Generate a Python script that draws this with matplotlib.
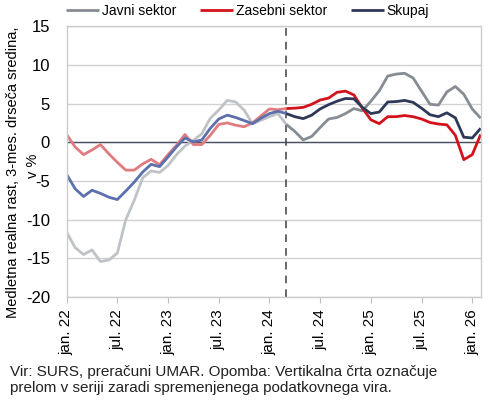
import numpy as np
import matplotlib
matplotlib.use('Agg')
import matplotlib.pyplot as plt

plt.rcParams['font.family'] = ['Liberation Sans', 'DejaVu Sans']
plt.rcParams['axes.unicode_minus'] = False

# mesečni podatki jan.22 - feb.26
meseci = np.arange(50)
javni = [-11.6, -13.6, -14.5, -13.9, -15.4, -15.2, -14.3, -10.0, -7.5, -4.6,
         -3.7, -3.9, -3.0, -1.6, -0.5, 0.25, 1.1, 3.1, 4.15, 5.4,
         5.2, 4.15, 2.4, 2.85, 3.3, 3.7, 2.3, 1.4, 0.3, 0.75,
         1.9, 3.0, 3.2, 3.7, 4.35, 4.05, 5.3, 6.65, 8.55, 8.8,
         8.9, 8.3, 6.6, 4.9, 4.8, 6.5, 7.2, 6.2, 4.3, 3.1]
zasebni = [1.0, -0.6, -1.6, -1.0, -0.3, -1.5, -2.6, -3.6, -3.6, -2.8,
           -2.2, -2.9, -1.6, -0.4, 1.0, -0.3, -0.3, 0.9, 2.3, 2.5,
           2.2, 2.0, 2.5, 3.4, 4.3, 4.2, 4.35, 4.4, 4.5, 4.9,
           5.45, 5.7, 6.45, 6.6, 6.1, 4.4, 2.9, 2.4, 3.3, 3.3,
           3.45, 3.3, 3.0, 2.55, 2.35, 2.25, 0.9, -2.25, -1.6, 1.0]
skupaj = [-4.15, -6.0, -7.0, -6.2, -6.6, -7.1, -7.4, -6.3, -5.15, -3.85,
          -2.85, -3.15, -1.9, -0.6, 0.55, 0.05, 0.3, 1.8, 3.0, 3.5,
          3.2, 2.8, 2.4, 3.1, 3.7, 4.0, 3.7, 3.3, 3.05, 3.5,
          4.3, 4.85, 5.3, 5.65, 5.6, 4.5, 3.7, 3.9, 5.2, 5.25,
          5.4, 5.15, 4.4, 3.55, 3.3, 3.8, 3.15, 0.65, 0.55, 1.8]
prelom = 26  # mar.24
tick_pos = [0, 6, 12, 18, 24, 30, 36, 42, 48]
tick_lab = ['jan. 22', 'jul. 22', 'jan. 23', 'jul. 23', 'jan. 24',
            'jul. 24', 'jan. 25', 'jul. 25', 'jan. 26']

fig = plt.figure(figsize=(4.9, 4.01), dpi=100)
ax = fig.add_axes([0.136, 0.259, 0.845, 0.676])

serije = [
    ('Javni sektor', javni, '#bfc3c7', '#858c94'),
    ('Zasebni sektor', zasebni, '#e07b7f', '#d3121c'),
    ('Skupaj', skupaj, '#5b70ad', '#2e3857'),
]
x = np.array(meseci)
for ime, vals, svetla, temna in serije:
    v = np.array(vals)
    ax.plot(x[:prelom + 1], v[:prelom + 1], color=svetla, lw=2, solid_capstyle='butt')
    ax.plot(x[prelom:], v[prelom:], color=temna, lw=2, label=ime, solid_capstyle='butt')

ax.axhline(0, color='#4a5160', lw=1, zorder=1)
ax.axvline(prelom, color='#3a3f4a', lw=1.1, ls=(0, (5, 4)), zorder=1)

ax.set_xlim(0, 49)
ax.set_ylim(-20, 15)
ax.set_yticks(range(-20, 16, 5))
ax.yaxis.grid(True, color='#d2d2d2', lw=1)
ax.set_axisbelow(True)
ax.set_xticks(tick_pos)
ax.set_xticklabels(tick_lab, rotation=90)
ax.tick_params(axis='x', length=4, color='#bfbfbf', labelsize=11, pad=5)
ax.tick_params(axis='y', length=0, labelsize=12, pad=12)
for s in ax.spines.values():
    s.set_color('#cccccc')
    s.set_linewidth(1)

# naslov osi v dveh vrsticah: druga vrstica posebej, ob oznakah
ax.set_ylabel('Medletna realna rast, 3-mes. drseča sredina,', fontsize=10.5)
ax.yaxis.set_label_coords(-0.113, 0.46)
fig.text(33 / 490, 1 - 166 / 401, 'v %', rotation=90, fontsize=10.5,
         ha='center', va='center')

fig.legend(loc='center', bbox_to_anchor=(0.505, 1 - 11 / 401), ncol=3, frameon=False,
           fontsize=10, handlelength=2.4, columnspacing=1.7, handletextpad=0.2)

fig.text(0.02, 1 - 380 / 401,
         'Vir: SURS, preračuni UMAR. Opomba: Vertikalna črta označuje\n'
         'prelom v seriji zaradi spremenjenega podatkovnega vira.',
         fontsize=11, va='center', ha='left', linespacing=1.2, color='#222222')

fig.savefig('out.png', dpi=100)
